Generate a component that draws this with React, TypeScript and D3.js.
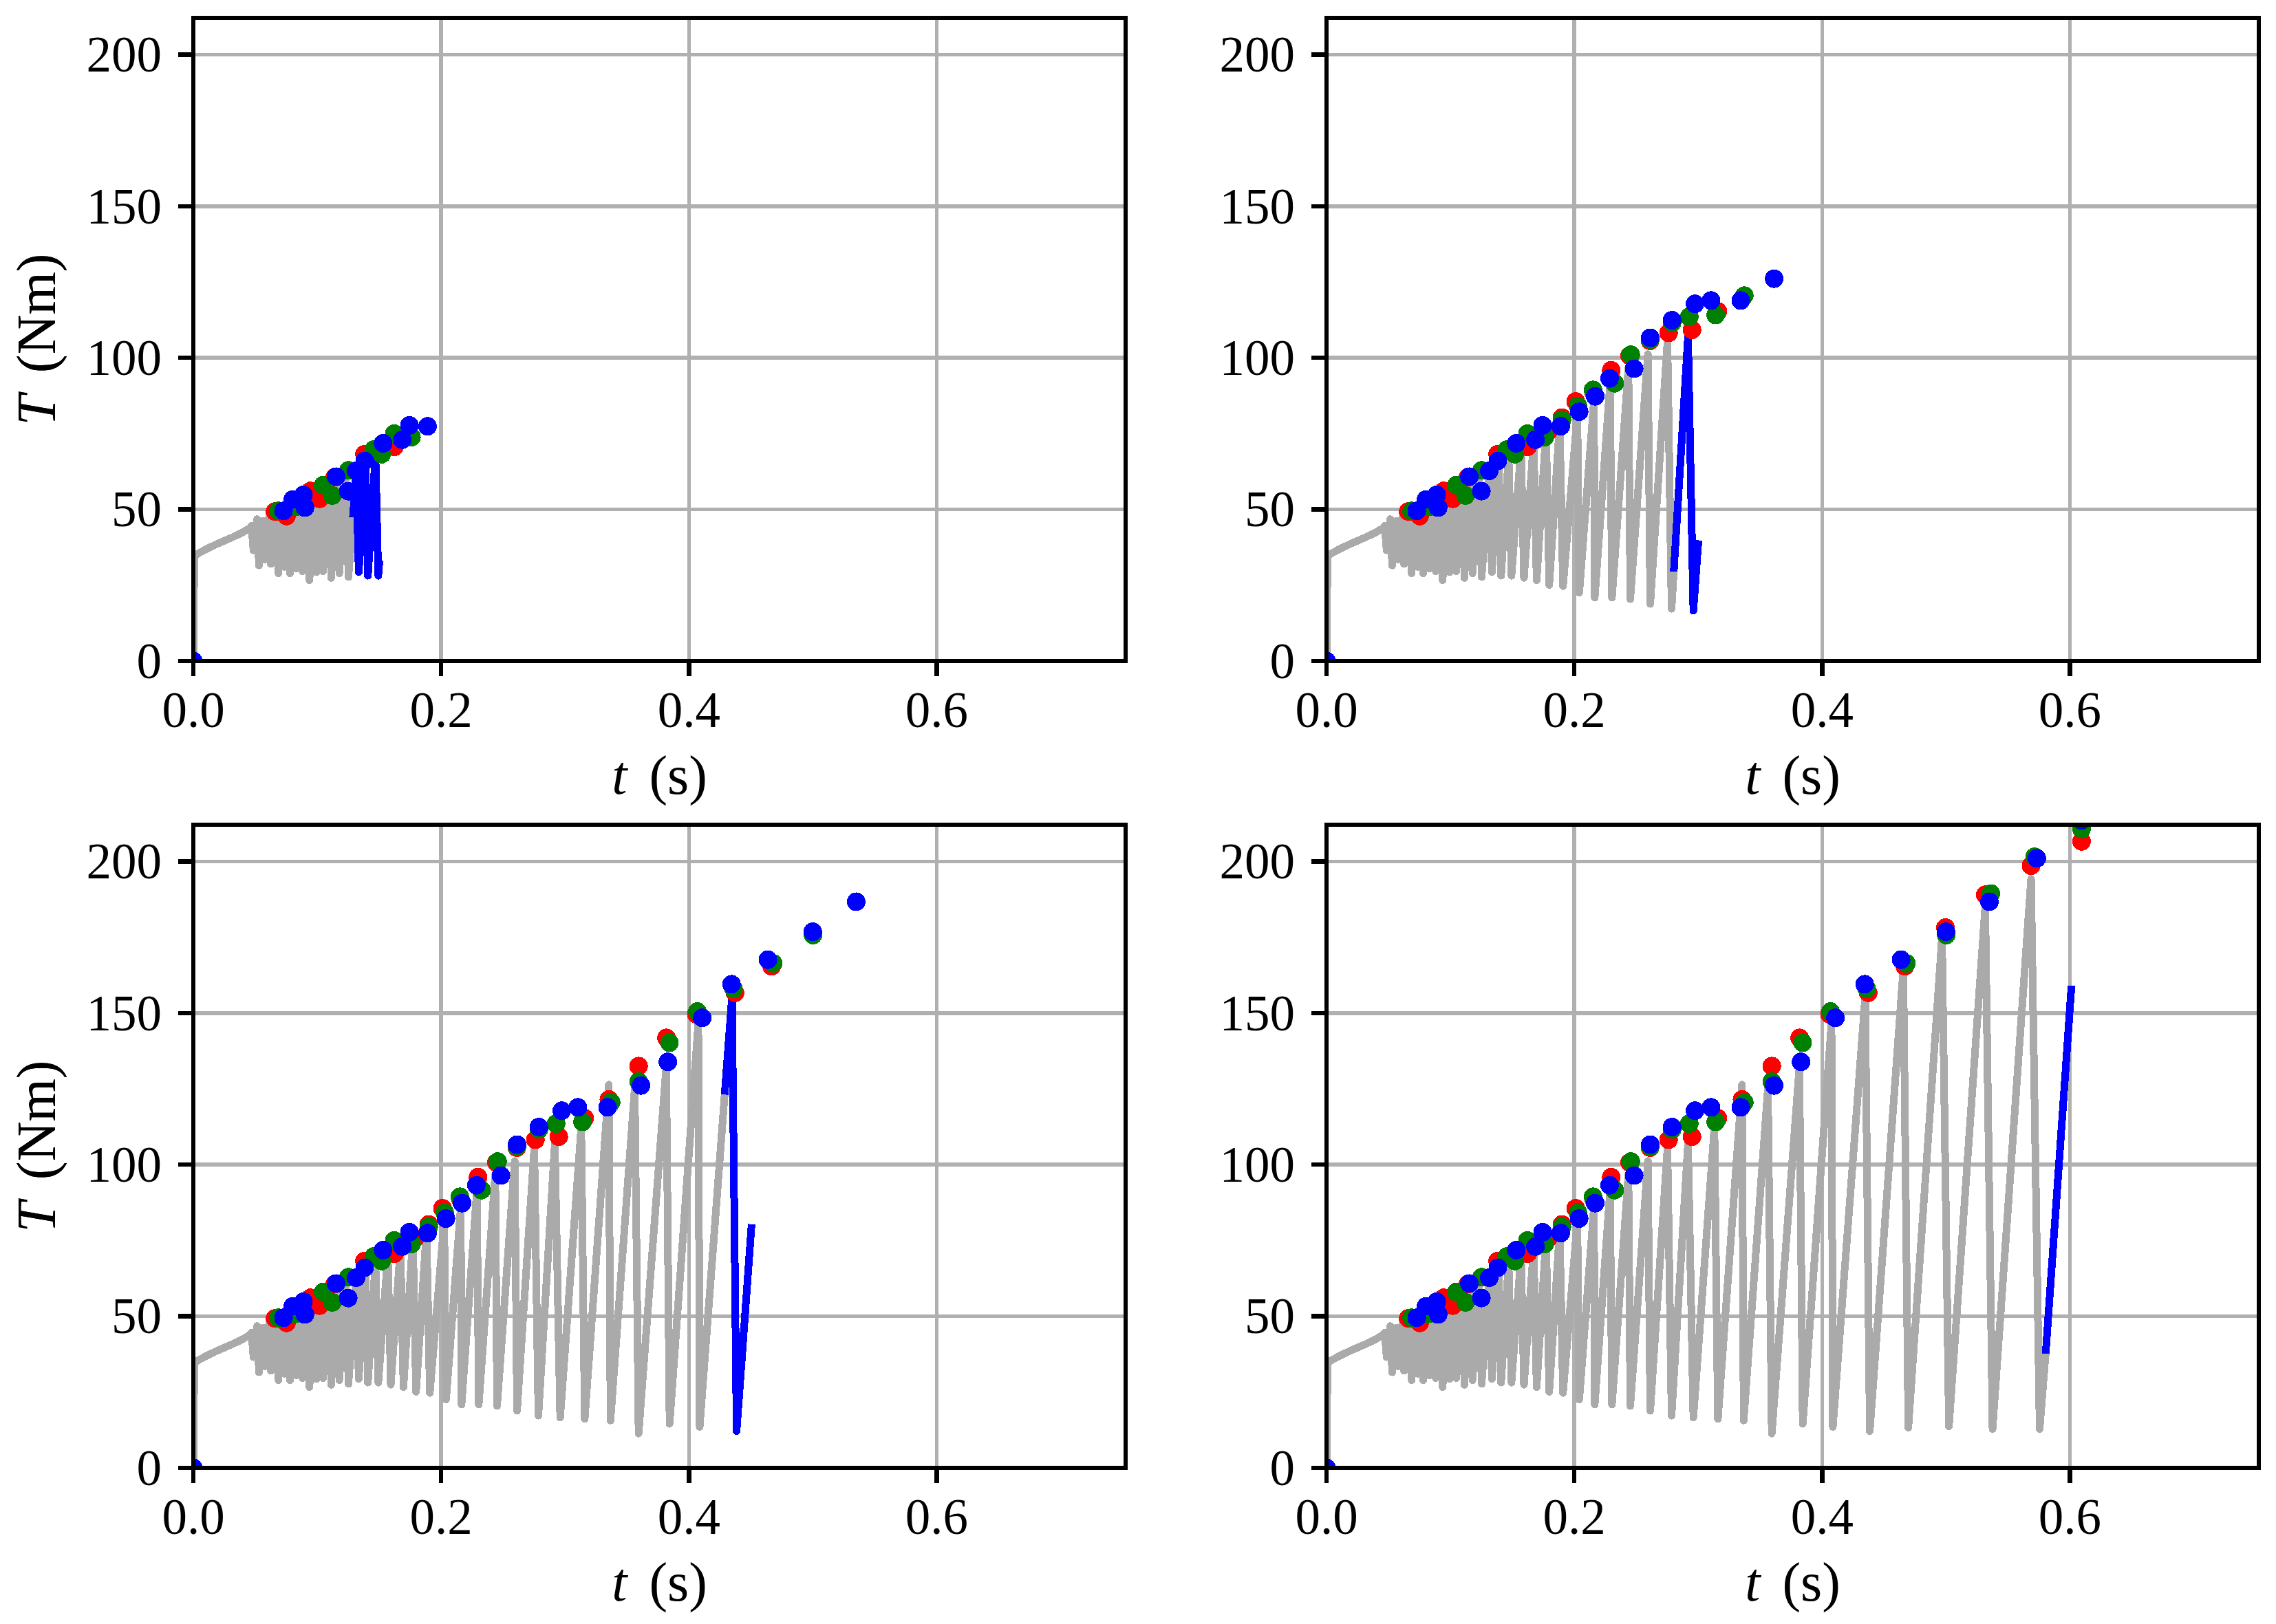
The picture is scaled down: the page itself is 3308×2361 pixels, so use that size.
import React, { useEffect, useRef } from "react";
import * as d3 from "d3";

const W = 3308;
const H = 2361;

const xTicks = [0, 0.2, 0.4, 0.6];
const yTicks = [0, 50, 100, 150, 200];

// measured torque signal, [t (s), T (Nm)] vertices
const torqueSignal: [number, number][] = [
  [0, 0], [0.0008, 34.8], [0.01, 36.8], [0.0196, 38.7], [0.0326, 41.0], [0.04, 42.5], [0.0456, 43.8],
  [0.047, 44.6], [0.0485, 36.5], [0.0515, 46.8], [0.053, 31.5], [0.0565, 46.2], [0.0578, 33.5],
  [0.0612, 47.6], [0.0625, 32.0], [0.066, 48.6], [0.0687, 28.9], [0.072, 49.2], [0.0735, 31.0],
  [0.0765, 50.2], [0.078, 28.9], [0.0815, 52.0], [0.083, 30.5], [0.0865, 53.0], [0.0881, 29.6],
  [0.092, 54.4], [0.0937, 26.6], [0.0975, 54.2], [0.0993, 29.3], [0.103, 56.4], [0.1048, 29.6],
  [0.1095, 57.2], [0.1113, 27.4], [0.116, 59.4], [0.1178, 28.9], [0.1232, 60.4], [0.1252, 27.7],
  [0.1315, 62.4], [0.1335, 29.3], [0.1388, 65.0], [0.1409, 28.1], [0.147, 68.0], [0.1493, 28.1],
  [0.157, 70.4], [0.1594, 27.4], [0.1672, 72.8], [0.1696, 26.6], [0.1772, 75.8], [0.1798, 25.1],
  [0.1882, 78.4], [0.1909, 24.7], [0.2025, 81.4], [0.204, 22.5], [0.2159, 86.2], [0.2165, 20.9],
  [0.2289, 91.6], [0.2304, 20.9], [0.2437, 96.9], [0.2452, 20.4], [0.2594, 101.2], [0.2613, 18.8],
  [0.2752, 105.5], [0.2785, 17.2], [0.2918, 107.1], [0.2961, 16.6], [0.3131, 112.4], [0.3159, 16.1],
  [0.3354, 126.4], [0.3367, 15.6], [0.3563, 125.3], [0.3594, 11.3], [0.3817, 132.3], [0.3844, 14.5],
  [0.4076, 146.8], [0.4087, 13.5], [0.4348, 155.3], [0.4385, 12.1], [0.4656, 164.7], [0.4696, 13.2],
  [0.4968, 175.0], [0.5024, 13.7], [0.5317, 185.3], [0.5376, 12.8], [0.5687, 194.2], [0.5756, 12.8],
  [0.5807, 38.9], [0.6011, 157.8],
];

// detected peaks, three methods
const redDots: [number, number][] = [
  [0, 0], [0.0659, 49.3], [0.0752, 47.8], [0.0946, 56.1], [0.102, 53.5], [0.1141, 60.6],
  [0.1381, 68.2], [0.1622, 70.6], [0.1789, 75.6], [0.19, 80.3], [0.2011, 85.6], [0.2155, 88.8],
  [0.2298, 95.9], [0.2446, 100.7], [0.2611, 105.6], [0.2761, 108.2], [0.295, 109.2], [0.3159, 115.3],
  [0.3354, 121.5], [0.3594, 132.5], [0.3819, 141.8], [0.406, 149.6], [0.4372, 156.7], [0.4668, 165.4],
  [0.4996, 178.2], [0.5317, 189.0], [0.5687, 198.6], [0.6094, 206.6],
];

const greenDots: [number, number][] = [
  [0, 0], [0.0687, 49.5], [0.0826, 50.8], [0.1048, 58.0], [0.1122, 54.6], [0.1252, 62.9],
  [0.1456, 69.7], [0.152, 68.2], [0.1622, 75.0], [0.1761, 73.8], [0.19, 79.5], [0.203, 84.1],
  [0.2151, 89.4], [0.2326, 91.6], [0.2456, 101.0], [0.2613, 106.0], [0.2789, 111.6], [0.2928, 113.5],
  [0.3141, 114.1], [0.3372, 120.5], [0.3594, 127.4], [0.3843, 140.2], [0.4068, 150.5], [0.436, 158.0],
  [0.468, 166.4], [0.5002, 175.7], [0.5363, 189.4], [0.5715, 201.5], [0.6094, 210.7],
];

const blueDots: [number, number][] = [
  [0, 0], [0.0728, 49.5], [0.0804, 53.3], [0.0889, 54.8], [0.0901, 50.6], [0.1153, 60.8],
  [0.125, 56.0], [0.1314, 62.7], [0.1383, 66.0], [0.1532, 71.8], [0.1687, 73.0], [0.1744, 77.7],
  [0.189, 77.4], [0.2039, 82.2], [0.2169, 87.3], [0.2285, 93.2], [0.2483, 96.4], [0.2613, 106.6],
  [0.2789, 112.4], [0.2974, 117.8], [0.3104, 118.9], [0.3344, 118.9], [0.3613, 126.1], [0.383, 133.9],
  [0.4108, 148.4], [0.4344, 159.5], [0.4638, 167.6], [0.5, 176.8], [0.535, 186.7], [0.5733, 201.0],
  [0.6094, 213.5],
];

// per panel: end of the measured (gray) part, end of the blue window, dot cut-offs
const panelSplit = [0.129, 0.2805, 0.4291, 0.5807];
const panelWindowEnd = [0.15, 0.3, 0.4504, 0.6011];
const redCut = [0.165, 0.33, 0.47, 0.62];
const greenCut = [0.177, 0.338, 0.501, 0.62];
const blueCut = [0.19, 0.362, 0.536, 0.62];

const panelPos = [
  { x: 281, y: 26 },
  { x: 1928, y: 26 },
  { x: 281, y: 1199 },
  { x: 1928, y: 1199 },
];

const FONT = "'Liberation Serif', 'Times New Roman', serif";

function valueAt(data: [number, number][], t: number): number {
  for (let i = 1; i < data.length; i++) {
    const [t0, v0] = data[i - 1];
    const [t1, v1] = data[i];
    if (t >= t0 && t <= t1) {
      if (t1 === t0) return v1;
      return v0 + ((t - t0) / (t1 - t0)) * (v1 - v0);
    }
  }
  return data[data.length - 1][1];
}

const App: React.FC = () => {
  const svgRef = useRef<SVGSVGElement>(null);

  useEffect(() => {
    if (!svgRef.current) return;
    const svg = d3.select(svgRef.current);
    svg.selectAll("*").remove();

    const pw = 1355;
    const ph = 935;
    const xScale = d3.scaleLinear().domain([0, 0.7525]).range([0, pw]);
    const yScale = d3.scaleLinear().domain([0, 212.1]).range([ph, 0]);

    const line = d3
      .line<[number, number]>()
      .x((d) => xScale(d[0]))
      .y((d) => yScale(d[1]));

    const defs = svg.append("defs");

    panelPos.forEach((pos, i) => {
      defs
        .append("clipPath")
        .attr("id", `clip${i}`)
        .append("rect")
        .attr("width", pw)
        .attr("height", ph);

      const g = svg
        .append("g")
        .attr("transform", `translate(${pos.x},${pos.y})`)
        .attr("shape-rendering", "crispEdges");

      // grid
      g.selectAll(".gx")
        .data(xTicks)
        .enter()
        .append("line")
        .attr("x1", (d) => xScale(d))
        .attr("x2", (d) => xScale(d))
        .attr("y1", 0)
        .attr("y2", ph)
        .attr("stroke", "#b0b0b0")
        .attr("stroke-width", 5.5);
      g.selectAll(".gy")
        .data(yTicks)
        .enter()
        .append("line")
        .attr("x1", 0)
        .attr("x2", pw)
        .attr("y1", (d) => yScale(d))
        .attr("y2", (d) => yScale(d))
        .attr("stroke", "#b0b0b0")
        .attr("stroke-width", 5.5);

      const plot = g.append("g").attr("clip-path", `url(#clip${i})`);

      const split = panelSplit[i];
      const wEnd = panelWindowEnd[i];
      const splitPt: [number, number] = [split, valueAt(torqueSignal, split)];
      const endPt: [number, number] = [wEnd, valueAt(torqueSignal, wEnd)];
      const grayPts = [...torqueSignal.filter((d) => d[0] < split), splitPt];
      const bluePts = [
        splitPt,
        ...torqueSignal.filter((d) => d[0] > split && d[0] < wEnd),
        endPt,
      ];

      plot
        .append("path")
        .attr("d", line(grayPts) || "")
        .attr("fill", "none")
        .attr("stroke", "#aaaaaa")
        .attr("stroke-width", 11)
        .attr("stroke-linejoin", "round")
        .attr("stroke-linecap", "square");

      plot
        .append("path")
        .attr("d", line(bluePts) || "")
        .attr("fill", "none")
        .attr("stroke", "#0000ff")
        .attr("stroke-width", 11)
        .attr("stroke-linejoin", "round")
        .attr("stroke-linecap", "square");

      const dotSets: [[number, number][], number, string][] = [
        [redDots, redCut[i], "#ff0000"],
        [greenDots, greenCut[i], "#008000"],
        [blueDots, blueCut[i], "#0000ff"],
      ];
      dotSets.forEach(([dots, cut, color]) => {
        plot
          .append("g")
          .selectAll("circle")
          .data(dots.filter((d) => d[0] <= cut))
          .enter()
          .append("circle")
          .attr("cx", (d) => xScale(d[0]))
          .attr("cy", (d) => yScale(d[1]))
          .attr("r", 13.5)
          .attr("fill", color);
      });

      // spines
      g.append("rect")
        .attr("width", pw)
        .attr("height", ph)
        .attr("fill", "none")
        .attr("stroke", "#000")
        .attr("stroke-width", 6.5);

      // ticks
      g.selectAll(".tx")
        .data(xTicks)
        .enter()
        .append("line")
        .attr("x1", (d) => xScale(d))
        .attr("x2", (d) => xScale(d))
        .attr("y1", ph)
        .attr("y2", ph + 22)
        .attr("stroke", "#000")
        .attr("stroke-width", 6.5);
      g.selectAll(".ty")
        .data(yTicks)
        .enter()
        .append("line")
        .attr("x1", -22)
        .attr("x2", 0)
        .attr("y1", (d) => yScale(d))
        .attr("y2", (d) => yScale(d))
        .attr("stroke", "#000")
        .attr("stroke-width", 6.5);

      g.selectAll(".lx")
        .data(xTicks)
        .enter()
        .append("text")
        .attr("x", (d) => xScale(d))
        .attr("y", ph + 96)
        .attr("text-anchor", "middle")
        .style("font-family", FONT)
        .style("font-size", "73px")
        .text((d) => d.toFixed(1));
      g.selectAll(".ly")
        .data(yTicks)
        .enter()
        .append("text")
        .attr("x", -46)
        .attr("y", (d) => yScale(d))
        .attr("dy", "0.34em")
        .attr("text-anchor", "end")
        .style("font-family", FONT)
        .style("font-size", "73px")
        .text((d) => String(d));

      // axis labels
      const xl = g
        .append("text")
        .attr("x", pw / 2)
        .attr("y", ph + 193)
        .attr("text-anchor", "middle")
        .style("font-family", FONT)
        .style("font-size", "80px");
      xl.append("tspan").style("font-style", "italic").text("t");
      xl.append("tspan").attr("dx", 12).text(" (s)");

      const yl = g
        .append("text")
        .attr("transform", `translate(${80 - pos.x},${ph / 2}) rotate(-90)`)
        .attr("text-anchor", "middle")
        .style("font-family", FONT)
        .style("font-size", "80px");
      yl.append("tspan").style("font-style", "italic").text("T");
      yl.append("tspan").attr("dx", 12).text(" (Nm)");
    });
  }, []);

  return (
    <svg
      ref={svgRef}
      width={W}
      height={H}
      style={{ position: "absolute", left: 0, top: 0, background: "#fff" }}
    />
  );
};

export default App;
